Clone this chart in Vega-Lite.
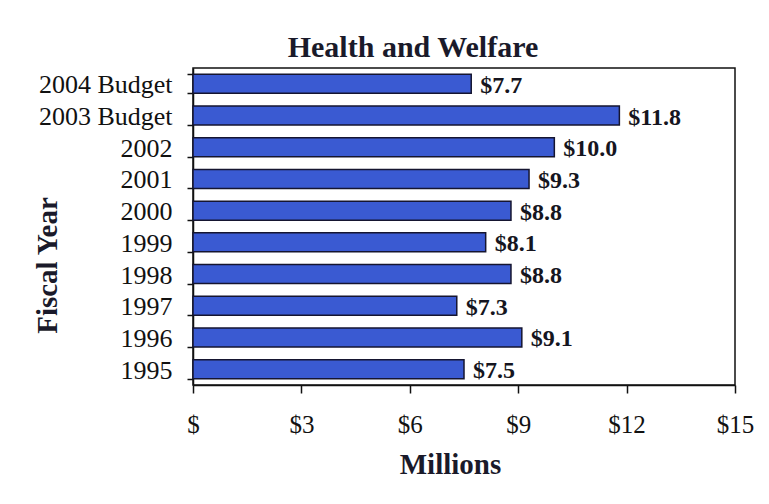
{
  "$schema": "https://vega.github.io/schema/vega-lite/v6.json",
  "autosize": "none",
  "width": 542,
  "height": 317,
  "padding": {"left": 193, "top": 68, "right": 34, "bottom": 119},
  "background": "white",
  "title": {
    "text": "Health and Welfare",
    "font": "Liberation Serif",
    "fontSize": 30,
    "fontWeight": "bold",
    "color": "#1a1a2a",
    "anchor": "middle",
    "dx": -51,
    "dy": 18,
    "offset": 2
  },
  "data": {
    "values": [
      {"year": "2004 Budget", "amount": 7.7, "label": "$7.7"},
      {"year": "2003 Budget", "amount": 11.8, "label": "$11.8"},
      {"year": "2002", "amount": 10.0, "label": "$10.0"},
      {"year": "2001", "amount": 9.3, "label": "$9.3"},
      {"year": "2000", "amount": 8.8, "label": "$8.8"},
      {"year": "1999", "amount": 8.1, "label": "$8.1"},
      {"year": "1998", "amount": 8.8, "label": "$8.8"},
      {"year": "1997", "amount": 7.3, "label": "$7.3"},
      {"year": "1996", "amount": 9.1, "label": "$9.1"},
      {"year": "1995", "amount": 7.5, "label": "$7.5"}
    ]
  },
  "encoding": {
    "y": {
      "field": "year",
      "type": "nominal",
      "sort": null,
      "scale": {"paddingInner": 0.4, "paddingOuter": 0.2},
      "axis": {
        "title": "Fiscal Year",
        "titleFont": "Liberation Serif",
        "titleFontSize": 29,
        "titleFontWeight": "bold",
        "titleColor": "#1a1a2a",
        "titleAngle": 270,
        "titleAlign": "center",
        "titleBaseline": "middle",
        "titleX": -146,
        "titleY": 197,
        "labelFont": "Liberation Serif",
        "labelFontSize": 26,
        "labelColor": "#111111",
        "labelBaseline": "alphabetic",
        "labelOffset": 9,
        "labelPadding": 15,
        "labelLimit": 300,
        "tickBand": "extent",
        "tickSize": 6,
        "tickColor": "#111111",
        "tickWidth": 1.5,
        "domainColor": "#111111",
        "domainWidth": 1.5,
        "grid": false
      }
    },
    "x": {
      "field": "amount",
      "type": "quantitative",
      "scale": {"domain": [0, 15], "nice": false},
      "axis": {
        "values": [0, 3, 6, 9, 12, 15],
        "labelExpr": "datum.value == 0 ? '$' : '$' + datum.value",
        "title": "Millions",
        "titleFont": "Liberation Serif",
        "titleFontSize": 29,
        "titleFontWeight": "bold",
        "titleColor": "#1a1a2a",
        "titleX": 257,
        "titleY": 88,
        "titleAlign": "center",
        "titleBaseline": "alphabetic",
        "labelFont": "Liberation Serif",
        "labelFontSize": 25,
        "labelColor": "#111111",
        "labelBaseline": "alphabetic",
        "labelPadding": 39,
        "labelFlush": false,
        "tickSize": 8,
        "tickColor": "#111111",
        "tickWidth": 1.5,
        "domainColor": "#111111",
        "domainWidth": 1.5,
        "grid": false
      }
    }
  },
  "layer": [
    {
      "mark": {"type": "bar", "color": "#3a5ad2", "stroke": "#151530", "strokeWidth": 1.5}
    },
    {
      "mark": {
        "type": "text",
        "align": "left",
        "baseline": "alphabetic",
        "dx": 9,
        "dy": 9,
        "font": "Liberation Serif",
        "fontSize": 24,
        "fontWeight": "bold",
        "color": "#151520"
      },
      "encoding": {"text": {"field": "label"}}
    }
  ],
  "config": {
    "view": {"stroke": "#111111", "strokeWidth": 1.5}
  }
}
